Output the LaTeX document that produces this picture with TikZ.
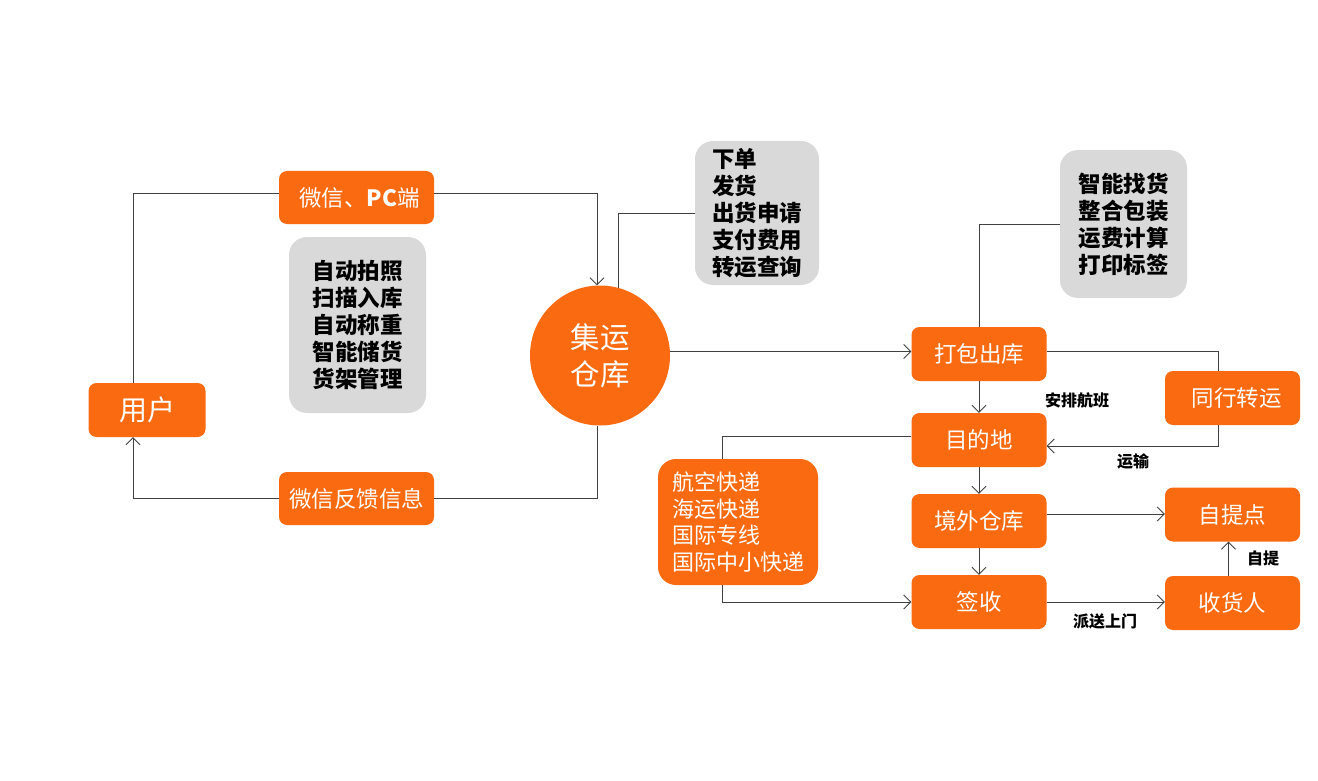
\documentclass[tikz,border=0pt]{standalone}
\usepackage{fontspec}
\setmainfont{Noto Sans CJK SC}
\usetikzlibrary{arrows.meta}
\definecolor{org}{HTML}{FA6A10}
\definecolor{gbox}{HTML}{D9D9D9}
\definecolor{ln}{HTML}{404040}
\begin{document}
\begin{tikzpicture}[x=1pt,y=-1pt,
  obox/.style={fill=org,draw=none,rounded corners=8pt,minimum width=135pt,minimum height=54pt,inner sep=0pt,text=white,font=\fontsize{22.5}{26}\selectfont},
  gray/.style={fill=gbox,draw=none,rounded corners=18pt,inner sep=0pt,align=left,text=black,font=\bfseries\fontsize{22.5}{27}\selectfont},
  conn/.style={draw=ln,line width=0.9pt},
  arr/.style={conn,-{Straight Barb[length=7pt,width=14pt]}},
  lab/.style={font=\bfseries\fontsize{16}{18}\selectfont,text=black,inner sep=0pt}]
\useasboundingbox (0,0) rectangle (1318,781);
% nodes
\node[obox,minimum width=117pt,font=\fontsize{28}{30}\selectfont] (user) at (147,410) {用户};
\node[obox,minimum width=155pt,minimum height=53pt] (wx) at (356.5,197.5) {\hspace{6pt}微信、\textbf{PC}端};
\node[obox,minimum width=155pt,minimum height=53pt] (fb) at (356.5,498.5) {微信反馈信息};
\node[gray,minimum width=137pt,minimum height=176pt] (g1) at (357.5,325) {自动拍照\\扫描入库\\自动称重\\智能储货\\货架管理};
\node[circle,fill=org,draw=none,minimum size=140pt,inner sep=0pt,text=white,align=center,font=\fontsize{29.5}{37}\selectfont] (hub) at (600,355.5) {集运\\仓库};
\node[gray,minimum width=124pt,minimum height=144pt] (g2) at (757,213) {下单\\发货\\出货申请\\支付费用\\转运查询};
\node[gray,minimum width=127pt,minimum height=148pt] (g3) at (1123.5,224) {智能找货\\整合包装\\运费计算\\打印标签};
\node[obox] (pack) at (979,354) {打包出库};
\node[obox] (relay) at (1232.5,398) {\hspace{8pt}同行转运};
\node[obox] (dest) at (979,440) {目的地};
\node[obox] (ow) at (979,521) {境外仓库};
\node[obox] (qs) at (979,602) {签收};
\node[obox] (pick) at (1232.5,514.5) {自提点};
\node[obox] (recv) at (1232.5,603) {收货人};
\node[obox,rounded corners=18pt,minimum width=160pt,minimum height=126pt,align=left,font=\fontsize{22}{26.5}\selectfont] (air) at (738,522) {航空快递\\海运快递\\国际专线\\国际中小快递};
% labels
\node[lab] (l1) at (1077,400) {安排航班};
\node[lab] (l2) at (1133,461) {运输};
\node[lab] (l3) at (1105,621) {派送上门};
\node[lab] (l4) at (1263,558) {自提};
% connectors
\draw[conn] ([xshift=-14pt]user.north) |- ([yshift=4pt]wx.west);
\draw[arr] ([yshift=4pt]wx.east) -| ([xshift=-3pt]hub.north);
\draw[conn] (g2.west) -| (hub.75);
\draw[conn] ([xshift=-3pt]hub.south) |- (fb.east);
\draw[arr] (fb.west) -| ([xshift=-14pt]user.south);
\draw[arr] ([yshift=4pt]hub.east) -- ([yshift=4pt]hub.east -| pack.west);
\draw[conn] (g3.west) -| (pack.north);
\draw[arr] (pack.south) -- (dest.north);
\draw[conn] ([yshift=3pt]pack.east) -| ([xshift=-14pt]relay.north);
\draw[arr] ([xshift=-14pt]relay.south) |- ([yshift=-6pt]dest.east);
\draw[conn] ([yshift=4pt]dest.west) -| ([xshift=-16pt]air.north);
\draw[arr] ([xshift=-16pt]air.south) |- (qs.west);
\draw[arr] (dest.south) -- (ow.north);
\draw[arr] (ow.south) -- (qs.north);
\draw[arr] ([yshift=7pt]ow.east) -- ([yshift=7pt]ow.east -| pick.west);
\draw[arr] (qs.east) -- (qs.east -| recv.west);
\draw[arr] ([xshift=-4pt]recv.north) -- ([xshift=-4pt]pick.south);
\end{tikzpicture}
\end{document}
